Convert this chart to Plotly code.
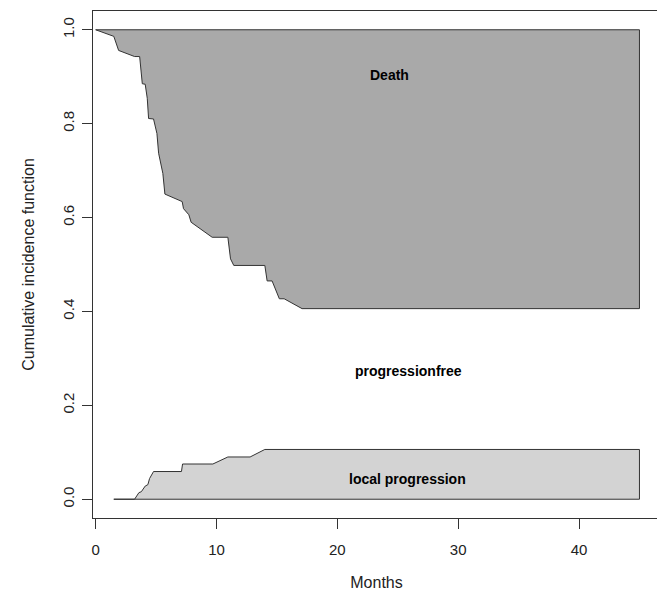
import plotly.graph_objects as go

# Death band: lower boundary (1 - cumulative incidence of death), linear steps as drawn
death_months = [0.0, 1.5, 1.9, 3.22, 3.64, 3.86, 4.1, 4.27, 4.38, 4.79, 5.07, 5.21, 5.56, 5.73,
                7.16, 7.27, 7.71, 7.9, 9.64, 10.94, 11.16, 11.43, 14.0, 14.19, 14.6, 15.2,
                15.6, 17.08, 45.0]
death_boundary = [1.0, 0.986, 0.956, 0.943, 0.943, 0.885, 0.884, 0.854, 0.811, 0.810, 0.779,
                  0.737, 0.694, 0.650, 0.634, 0.619, 0.606, 0.590, 0.558, 0.558, 0.512, 0.498,
                  0.498, 0.465, 0.465, 0.427, 0.427, 0.406, 0.406]

# Local progression: cumulative incidence
local_months = [1.5, 3.22, 3.58, 3.78, 4.1, 4.32, 4.46, 4.79, 7.1, 7.19, 9.7, 10.94, 12.78,
                14.0, 45.0]
local_cif = [0.0, 0.0, 0.014, 0.016, 0.028, 0.031, 0.044, 0.059, 0.059, 0.075, 0.075, 0.090,
             0.090, 0.106, 0.106]

labels = ["Death", "progressionfree", "local progression"]
label_x = [24.3, 25.85, 25.8]
label_y = [0.903, 0.274, 0.044]

x_ticks = [0, 10, 20, 30, 40]
y_ticks = [0.0, 0.2, 0.4, 0.6, 0.8, 1.0]

FONT = "Liberation Sans, Arial, sans-serif"
LINE = "#333333"

fig = go.Figure()

# Death polygon
dx = death_months + [death_months[-1], death_months[0]]
dy = death_boundary + [1.0, 1.0]
fig.add_trace(go.Scatter(x=dx, y=dy, mode="lines", fill="toself",
                         fillcolor="#A9A9A9", line=dict(color=LINE, width=1),
                         hoverinfo="skip", showlegend=False))

# Local progression polygon
lx = local_months + [local_months[-1], local_months[0]]
ly = local_cif + [0.0, 0.0]
fig.add_trace(go.Scatter(x=lx, y=ly, mode="lines", fill="toself",
                         fillcolor="#D3D3D3", line=dict(color=LINE, width=1),
                         hoverinfo="skip", showlegend=False))

for t, x, y in zip(labels, label_x, label_y):
    fig.add_annotation(x=x, y=y, text=t, showarrow=False,
                       font=dict(family=FONT, size=14, color="black", weight="bold"))

# page body has an 8px default margin; margins compensate for that offset
fig.update_layout(
    width=665, height=596,
    margin=dict(l=85, r=13, t=3, b=86),
    plot_bgcolor="white", paper_bgcolor="white",
    font=dict(family=FONT, color="#222222"),
)
fig.update_xaxes(
    range=[-0.22, 46.7], tickvals=x_ticks, ticks="outside", ticklen=10, tickwidth=1,
    tickcolor=LINE, showgrid=False, zeroline=False, showline=True, mirror=True,
    linecolor=LINE, linewidth=1, tickfont=dict(size=15), ticklabelstandoff=8,
    title=dict(text="Months", font=dict(size=16), standoff=19),
)
fig.update_yaxes(
    range=[-0.04, 1.04], tickvals=y_ticks, tickformat=".1f", ticks="outside", ticklen=10,
    tickwidth=1, tickcolor=LINE, showgrid=False, zeroline=False, showline=True, mirror=True,
    linecolor=LINE, linewidth=1, tickfont=dict(size=15), tickangle=-90, ticklabelstandoff=2,
    title=dict(text="Cumulative incidence function", font=dict(size=16), standoff=21),
)

fig.write_html("out.html")
